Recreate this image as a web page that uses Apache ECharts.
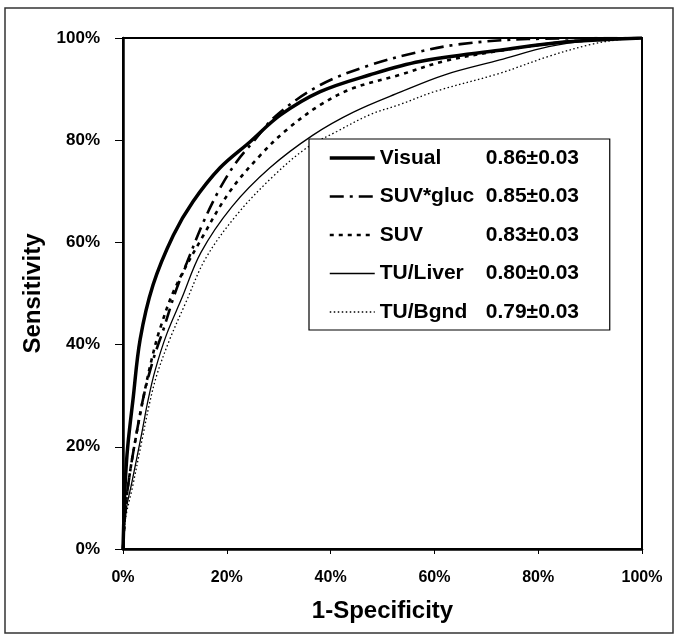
<!DOCTYPE html>
<html><head><meta charset="utf-8">
<script src="https://cdn.jsdelivr.net/npm/echarts@6/dist/echarts.min.js"></script>
<style>html,body{margin:0;padding:0;background:#fff}#c{width:678px;height:636px}</style>
</head><body><div id="c"></div>
<script>
const seriesNames = ['Visual', 'SUV*gluc', 'SUV', 'TU/Liver', 'TU/Bgnd'];
const aucLabels = ['0.86±0.03', '0.85±0.03', '0.83±0.03', '0.80±0.03', '0.79±0.03'];
const xAxisTitle = '1-Specificity';
const yAxisTitle = 'Sensitivity';

// false positive rate (%) and sensitivity (%)
const visualFpr = [0, 0.3, 0.6, 1, 1.9, 3.3, 5.8, 9.7, 13.5, 18.7, 24.5, 30.3, 38, 47.6, 57.2, 72.6, 85, 100];
const visualTpr = [0, 10, 16, 21, 29, 41, 51.7, 61.4, 68, 74.6, 79.7, 84.9, 89.5, 92.8, 95.4, 97.6, 99.2, 100];

const glucFpr = [0, 0.5, 1.2, 2.5, 4, 5.8, 7.8, 10, 12.3, 15.5, 18.7, 21.9, 25.1, 29.6, 38, 47.6, 56.6, 65, 78, 100];
const glucTpr = [0, 8, 14, 22, 30, 37, 43, 50, 56, 64, 70.6, 75.8, 79.7, 84.9, 90.8, 94.7, 97.2, 98.8, 99.8, 100];

const suvFpr = [0, 0.5, 1.2, 2.5, 4, 5.5, 7.1, 10, 15.5, 20.6, 26.4, 31.5, 38, 44.4, 53.4, 62, 72.6, 85, 100];
const suvTpr = [0, 8, 14, 22, 30, 37, 43, 51, 61.4, 70, 77, 82, 86.9, 90.2, 92.8, 95.5, 97.5, 99.2, 100];

const liverFpr = [0, 0.5, 1.7, 3.6, 4.8, 6.2, 8.4, 11.3, 15, 21, 28.3, 36.6, 44.4, 53.4, 62, 72.6, 82, 90, 100];
const liverTpr = [0, 7, 13, 22.6, 29, 35, 42, 49, 58, 67, 74.6, 81, 85.5, 89.4, 92.8, 95.7, 98.3, 99.5, 100];

const bgndFpr = [0, 0.5, 1.8, 3.8, 5, 6.5, 9, 12, 16, 22, 29, 35.4, 41.2, 47.6, 53.4, 60, 72.6, 82.3, 90, 95, 100];
const bgndTpr = [0, 6, 12, 22, 28, 34, 41, 48, 57, 65.5, 73, 78.5, 81.7, 85, 87, 89.5, 93.1, 96.5, 98.7, 99.6, 100];

const FONT = '"Liberation Sans", Arial, Helvetica, sans-serif';
const pair = (xs, ys) => xs.map((x, i) => [x, ys[i]]);

const curveData = [
  pair(visualFpr, visualTpr),
  pair(glucFpr, glucTpr),
  pair(suvFpr, suvTpr),
  pair(liverFpr, liverTpr),
  pair(bgndFpr, bgndTpr)
];
const curveStyles = [
  { width: 3.5, type: 'solid' },
  { width: 2.6, type: [14, 6, 3, 6] },
  { width: 2.6, type: [4, 5] },
  { width: 1.3, type: 'solid' },
  { width: 1.3, type: [1.5, 2.5] }
];

const chart = echarts.init(document.getElementById('c'), null, { renderer: 'canvas' });
chart.setOption({
  animation: false,
  backgroundColor: '#fff',
  graphic: [{
    type: 'rect', silent: true, z: -1,
    shape: { x: 5, y: 8, width: 668, height: 625 },
    style: { fill: 'none', stroke: '#333', lineWidth: 1.5 }
  }],
  grid: { left: 123, right: 36, top: 38, bottom: 87, show: true, borderColor: '#000', borderWidth: 2, backgroundColor: 'transparent' },
  xAxis: {
    type: 'value', min: 0, max: 100, interval: 20,
    name: xAxisTitle, nameLocation: 'middle', nameGap: 50,
    nameTextStyle: { fontFamily: FONT, fontWeight: 'bold', fontSize: 24, color: '#000' },
    axisLine: { show: true, onZero: false, lineStyle: { color: '#000', width: 2.5 } },
    axisTick: { show: true, length: 5, lineStyle: { color: '#000', width: 1 } },
    axisLabel: { formatter: '{value}%', margin: 21, fontFamily: FONT, fontWeight: 'bold', fontSize: 16, color: '#000' },
    splitLine: { show: false }
  },
  yAxis: {
    type: 'value', min: 0, max: 100, interval: 20,
    name: yAxisTitle, nameLocation: 'middle', nameGap: 75, nameRotate: 90,
    nameTextStyle: { fontFamily: FONT, fontWeight: 'bold', fontSize: 24, color: '#000' },
    axisLine: { show: true, onZero: false, lineStyle: { color: '#000', width: 2.5 } },
    axisTick: { show: true, length: 8, lineStyle: { color: '#000', width: 1 } },
    axisLabel: { formatter: '{value}%', margin: 23, fontFamily: FONT, fontWeight: 'bold', fontSize: 17, color: '#000' },
    splitLine: { show: false }
  },
  legend: {
    orient: 'vertical', left: 309, top: 139,
    data: seriesNames.map((name, i) => ({
      name: name,
      lineStyle: { color: '#000', width: curveStyles[i].width, type: curveStyles[i].type }
    })),
    backgroundColor: '#fff',
    borderColor: '#000', borderWidth: 1.2,
    padding: [8, 19, 7, 19],
    itemWidth: 45, itemHeight: 14, itemGap: 16.5,
    itemStyle: { opacity: 0, borderWidth: 0 },
    inactiveColor: '#000',
    formatter: function (name) {
      const i = seriesNames.indexOf(name);
      return '{n|' + name + '}{v|' + aucLabels[i] + '}';
    },
    textStyle: {
      color: '#000', fontFamily: FONT, fontWeight: 'bold', fontSize: 21, lineHeight: 22,
      rich: {
        n: { width: 106, color: '#000', fontFamily: FONT, fontWeight: 'bold', fontSize: 21, lineHeight: 22 },
        v: { width: 105, color: '#000', fontFamily: FONT, fontWeight: 'bold', fontSize: 21, lineHeight: 22 }
      }
    }
  },
  series: seriesNames.map((name, i) => ({
    name: name,
    type: 'line',
    data: curveData[i],
    smooth: 0.35,
    symbol: 'none',
    showSymbol: false,
    color: '#000',
    lineStyle: { color: '#000', width: curveStyles[i].width, type: curveStyles[i].type },
    z: 5 - i
  }))
});
</script>
</body></html>
